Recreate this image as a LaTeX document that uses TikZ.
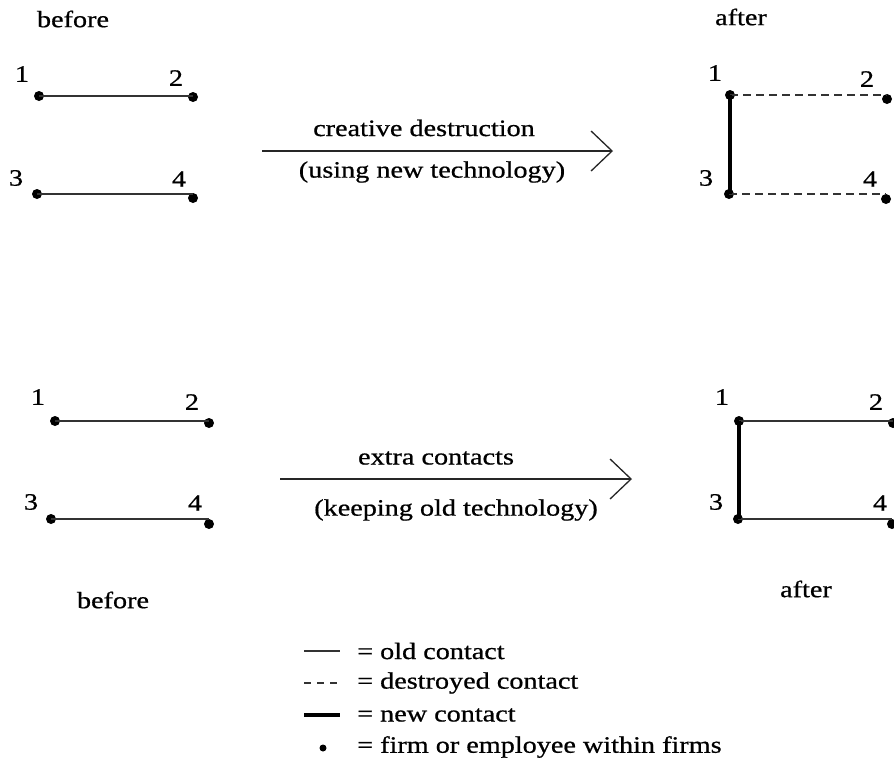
\documentclass[tikz,border=0pt]{standalone}
\usepackage{fontspec}
\setmainfont{Liberation Serif}[FakeStretch=1.2,FakeBold=0.7]
\usetikzlibrary{arrows.meta}
\begin{document}
\begin{tikzpicture}[x=1pt,y=-1pt,
  dot/.style={circle,fill=black,inner sep=0pt,minimum size=10pt},
  lbl/.style={inner sep=0pt,font=\fontsize{23.5}{28}\selectfont},
  oldc/.style={draw=black!80,line width=2pt},
  newc/.style={draw=black,line width=4pt},
  gonec/.style={draw=black!80,line width=2pt,dash pattern=on 8pt off 5pt},
  bigarrow/.style={draw=black!85,line width=1.4pt,-{Straight Barb[length=21pt,width=40pt,line width=1.3pt]}}]
\useasboundingbox (0,0) rectangle (894,764);
\fill[white] (0,0) rectangle (894,764);
% top left
\node[lbl] (hb1) at (73,19) {before};
\node[dot] (t1) at (39,96) {};
\node[dot] (t2) at (193,97) {};
\node[dot] (t3) at (37,194) {};
\node[dot] (t4) at (193,198) {};
\node[lbl] (lt1) at (22,74) {1};
\node[lbl] (lt2) at (176,78) {2};
\node[lbl] (lt3) at (16,178) {3};
\node[lbl] (lt4) at (179,179) {4};
\draw[oldc] (t1.center) -- (t1.center -| t2.center);
\draw[oldc] (t3.center) -- (t3.center -| t4.center);
% top arrow
\coordinate (a1s) at (262,151);
\coordinate (a1e) at (613,151);
\draw[bigarrow] (a1s) -- (a1e);
\node[lbl] (a1t) at (424,128) {creative destruction};
\node[lbl] (a1b) at (432,172) {(using new technology)};
% top right
\node[lbl] (ha1) at (741,17) {after};
\node[dot] (r1) at (730,95) {};
\node[dot] (r2) at (887,99) {};
\node[dot] (r3) at (729,194) {};
\node[dot] (r4) at (886,199) {};
\node[lbl] (lr1) at (715,73) {1};
\node[lbl] (lr2) at (867,79) {2};
\node[lbl] (lr3) at (706,178) {3};
\node[lbl] (lr4) at (870,179) {4};
\draw[gonec] (r1.center) -- (r1.center -| r2.center);
\draw[gonec] (r3.center) -- (r3.center -| r4.center);
\draw[newc] (r1.center) -- (r1.center |- r3.center);
% bottom left
\node[dot] (b1) at (55,421) {};
\node[dot] (b2) at (209,423) {};
\node[dot] (b3) at (51,519) {};
\node[dot] (b4) at (209,524) {};
\node[lbl] (lb1) at (38,397) {1};
\node[lbl] (lb2) at (192,402) {2};
\node[lbl] (lb3) at (31,502) {3};
\node[lbl] (lb4) at (195,503) {4};
\draw[oldc] (b1.center) -- (b1.center -| b2.center);
\draw[oldc] (b3.center) -- (b3.center -| b4.center);
\node[lbl] (hb2) at (113,600) {before};
% bottom arrow
\coordinate (a2s) at (280,479);
\coordinate (a2e) at (632,479);
\draw[bigarrow] (a2s) -- (a2e);
\node[lbl] (a2t) at (436,458) {extra contacts};
\node[lbl] (a2b) at (456,510) {(keeping old technology)};
% bottom right
\node[dot] (c1) at (739,421) {};
\node[dot] (c2) at (893,423) {};
\node[dot] (c3) at (738,519) {};
\node[dot] (c4) at (892,524) {};
\node[lbl] (lc1) at (722,397) {1};
\node[lbl] (lc2) at (876,402) {2};
\node[lbl] (lc3) at (716,502) {3};
\node[lbl] (lc4) at (880,503) {4};
\draw[oldc] (c1.center) -- (c1.center -| c2.center);
\draw[oldc] (c3.center) -- (c3.center -| c4.center);
\draw[newc] (c1.center) -- (c1.center |- c3.center);
\node[lbl] (ha2) at (806,589) {after};
% legend
\coordinate (k1a) at (304,651); \coordinate (k1b) at (340,651);
\coordinate (k2a) at (304,683); \coordinate (k2b) at (340,683);
\coordinate (k3a) at (304,715); \coordinate (k3b) at (340,715);
\draw[black!80,line width=1.6pt] (k1a) -- (k1b);
\draw[black!80,line width=1.6pt,dash pattern=on 7pt off 6pt] (k2a) -- (k2b);
\draw[black,line width=3.5pt] (k3a) -- (k3b);
\node[dot,minimum size=7pt] (k4) at (323,748) {};
\node[lbl,anchor=west] (kt1) at (357,651) {= old contact};
\node[lbl,anchor=west] (kt2) at (357,683) {= destroyed contact};
\node[lbl,anchor=west] (kt3) at (357,715) {= new contact};
\node[lbl,anchor=west] (kt4) at (357,747) {= firm or employee within firms};
\end{tikzpicture}
\end{document}
